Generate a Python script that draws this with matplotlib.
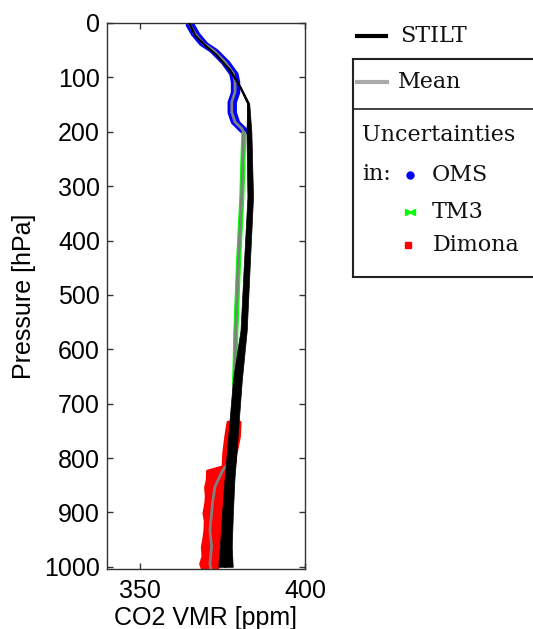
import matplotlib
matplotlib.use("Agg")
import matplotlib.pyplot as plt

# STILT profile: centre and half-width of the band (ppm) on pressure levels (hPa)
stilt_p = [0, 23, 41, 59, 87, 117, 148, 200, 320, 440, 565, 657, 718, 780, 840, 901, 963, 1000]
stilt_co2 = [364.9, 366.7, 369.7, 373.2, 377.3, 380.3, 382.8, 383.0, 383.4, 382.4, 381.4,
             379.5, 378.7, 377.9, 377.1, 376.5, 376.0, 375.9]
stilt_err = [0.1, 0.1, 0.1, 0.1, 0.15, 0.2, 0.3, 0.75, 0.85, 0.9, 0.95,
             1.35, 1.4, 1.45, 1.5, 1.65, 1.8, 2.2]

# mean profile
mean_p = [3, 20, 38, 50, 72, 93, 108, 127, 145, 164, 182, 194, 200, 320, 440, 565, 620,
          660, 720, 780, 810, 823, 853, 880, 901, 932, 963, 994, 1005]
mean_co2 = [365.1, 366.7, 369.2, 372.2, 375.8, 378.3, 378.8, 378.8, 377.8, 377.8, 378.8,
            380.8, 381.4, 380.8, 379.8, 379.0, 378.8,
            378.6, 378.2, 377.6, 376.8, 375.0, 372.7, 372.0, 371.7, 371.2, 371.7, 371.2, 371.5]

# OMS uncertainty
oms_p = [3, 20, 38, 50, 72, 93, 108, 127, 145, 164, 182, 194, 200]
oms_lo = [364.2, 365.8, 368.3, 371.3, 374.9, 377.4, 377.9, 377.9, 376.9, 376.9, 377.9, 379.9, 380.9]
oms_hi = [366.0, 367.6, 370.1, 373.1, 376.7, 379.2, 379.7, 379.7, 378.7, 378.7, 379.7, 381.7, 382.4]

# TM3 uncertainty
tm3_p = [200, 320, 440, 565, 620, 665]
tm3_lo = [380.7, 380.1, 379.1, 378.3, 378.1, 377.9]
tm3_hi = [381.9, 381.3, 380.3, 379.5, 379.3, 379.1]

# Dimona uncertainty
dim_p = [733, 760, 790, 815, 823, 840, 853, 870, 880, 901, 915, 932, 950, 963, 980, 994, 1008]
dim_lo = [376.5, 375.8, 375.2, 375.0, 370.3, 370.2, 369.7, 369.9, 369.8, 369.2, 369.6,
          369.5, 369.1, 368.7, 368.9, 368.2, 369.0]
dim_hi = [380.2, 380.0, 379.0, 378.5, 376.0, 375.8, 375.3, 375.2, 375.0, 374.8, 374.6,
          374.2, 374.0, 373.7, 373.8, 373.7, 373.3]

xticks = [350, 400]
yticks = list(range(0, 1001, 100))

plt.rcParams["font.family"] = ["Liberation Sans", "DejaVu Sans"]

W, H = 533, 629
fig = plt.figure(figsize=(W / 100, H / 100), dpi=100)
ax = fig.add_axes([107 / W, 1 - 569 / H, 198 / W, 546 / H])

ax.fill_betweenx(oms_p, oms_lo, oms_hi, color="#0000ff", lw=2.5, zorder=2)
ax.fill_betweenx(tm3_p, tm3_lo, tm3_hi, color="#00ff00", lw=0.8, zorder=2)
ax.fill_betweenx(dim_p, dim_lo, dim_hi, color="#ff0000", lw=2, zorder=2)
ax.plot(mean_co2, mean_p, color="#808080", lw=2, zorder=3)

lo = [c - e for c, e in zip(stilt_co2, stilt_err)]
hi = [c + e for c, e in zip(stilt_co2, stilt_err)]
ax.fill_betweenx(stilt_p, lo, hi, color="black", lw=0.5, zorder=4)
ax.plot(stilt_co2, stilt_p, color="black", lw=1.5, zorder=4)

ax.set_xlim(340, 400)
ax.set_ylim(1004, 0)
ax.set_xticks(xticks)
ax.set_yticks(yticks)
ax.tick_params(direction="in", top=True, right=True, length=4, width=1,
               labelsize=18, color="#333333")
ax.tick_params(axis="x", pad=7)
ax.tick_params(axis="y", pad=5)
for s in ax.spines.values():
    s.set_linewidth(1)
    s.set_color("#333333")
ax.set_xlabel("CO2 VMR [ppm]", fontsize=18, labelpad=2)
ax.set_ylabel("Pressure [hPa]", fontsize=18, labelpad=6)

# legend panel, laid out in pixel units
lax = fig.add_axes([353 / W, 1 - 277 / H, 200 / W, 218 / H])
lax.set_xlim(353, 553)
lax.set_ylim(277, 59)
lax.set_xticks([])
lax.set_yticks([])
lax.patch.set_alpha(0)
lax.spines["right"].set_visible(False)
for k in ("left", "top", "bottom"):
    lax.spines[k].set_linewidth(1.5)
    lax.spines[k].set_color("#222222")
lax.axhline(109, color="#222222", lw=1.2)

serif = dict(family=["DejaVu Serif"], fontsize=16, va="center", color="#111111")
lax.plot([357, 386], [36, 36], color="black", lw=3, clip_on=False)
lax.text(400, 36, "STILT", clip_on=False, **serif)
lax.plot([357, 387], [82, 82], color="#aaaaaa", lw=3)
lax.text(398, 82, "Mean", **serif)
lax.text(362, 135, "Uncertainties", **serif)
lax.text(362, 174, "in:", **serif)
lax.plot([410], [175], "o", color="#0000ff", ms=5)
lax.text(432, 175, "OMS", **serif)
lax.plot([408], [212], ">", color="#00ff00", ms=4)
lax.plot([412], [212], "<", color="#00ff00", ms=4)
lax.text(432, 212, "TM3", **serif)
lax.plot([408], [245], "s", color="#ff0000", ms=5)
lax.text(433, 245, "Dimona", **serif)

fig.savefig("out.png", dpi=100)
